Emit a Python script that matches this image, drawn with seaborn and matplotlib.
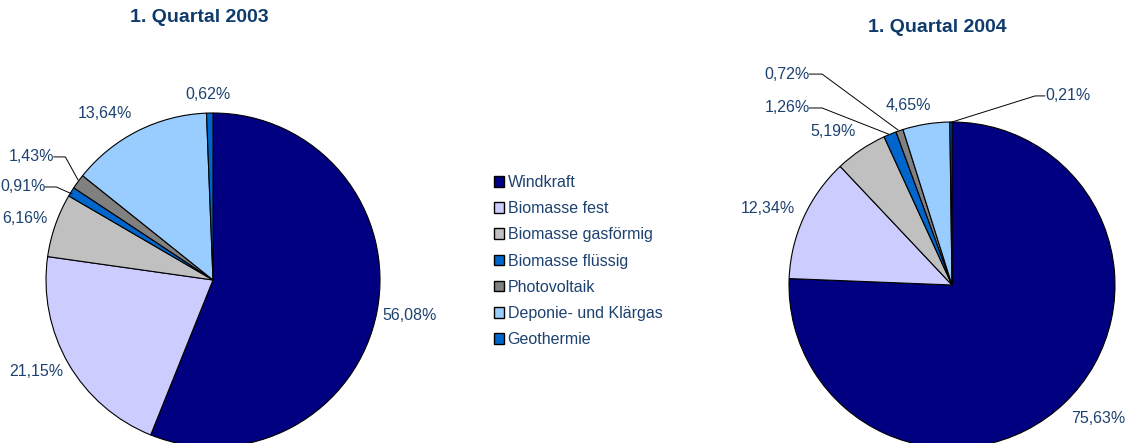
import matplotlib
matplotlib.use("Agg")
import matplotlib.pyplot as plt
from matplotlib.patches import Patch
import seaborn as sns

sns.set_theme(style="white")
plt.rcParams['font.family'] = ['Liberation Sans', 'DejaVu Sans']

categories = ["Windkraft", "Biomasse fest", "Biomasse gasförmig", "Biomasse flüssig",
              "Photovoltaik", "Deponie- und Klärgas", "Geothermie"]
values_2003 = [56.08, 21.15, 6.16, 0.91, 1.43, 13.64, 0.62]
values_2004 = [75.63, 12.34, 5.19, 1.26, 0.72, 4.65, 0.21]
titles = ["1. Quartal 2003", "1. Quartal 2004"]
colors = ["#000080", "#CCCCFF", "#C0C0C0", "#0066CC", "#808080", "#99CCFF", "#0066CC"]

TXT = "#1d4270"
TITLE = "#0e3a6c"

W, H = 1129, 443
fig = plt.figure(figsize=(W / 100, H / 100), dpi=100)


def pie_axes(cx, cy, r):
    ax = fig.add_axes([(cx - r) / W, (H - cy - r) / H, 2 * r / W, 2 * r / H])
    return ax


def fmt(v):
    return f"{v:.2f}".replace(".", ",") + "%"


# label positions (in pie units) and optional leader line (stub start, stub end, target)
pos_2003 = [(1.18, -0.21, None), (-1.057, -0.55, None), (-1.126, 0.371, None),
            (-1.138, 0.557, (0.13, 0.07, (-0.844, 0.515))),
            (-1.084, 0.737, (0.13, 0.07, (-0.808, 0.599))),
            (-0.647, 1.00, None), (-0.03, 1.108, None)]
pos_2004 = [(0.896, -0.816, None), (-1.129, 0.472, None), (-0.73, 0.94, None),
            (-1.012, 1.086, (0.135, 0.08, (-0.39, 0.926))),
            (-1.012, 1.294, (0.135, 0.08, (-0.33, 0.95))),
            (-0.27, 1.104, None),
            (0.71, 1.16, (-0.14, -0.06, (0.0, 1.0)))]

specs = [(213, 280, 167, values_2003, pos_2003, (199, 18)),
         (952, 285, 163, values_2004, pos_2004, (937, 27))]

for (cx, cy, r, vals, pos, tpos), title in zip(specs, titles):
    ax = pie_axes(cx, cy, r)
    ax.pie(vals, colors=colors, startangle=90, counterclock=False, radius=1,
           wedgeprops=dict(edgecolor='black', linewidth=0.8))
    ax.set_xlim(-1, 1)
    ax.set_ylim(-1, 1)
    ax.set_aspect('equal')
    ax.axis('off')
    for v, (x, y, lead) in zip(vals, pos):
        ax.text(x, y, fmt(v), ha='center', va='center', fontsize=11.5, color=TXT,
                clip_on=False)
        if lead is not None:
            off, stub, tgt = lead
            s0 = x + off
            s1 = s0 + stub
            ax.plot([s0, s1, tgt[0]], [y, y, tgt[1]], color='black',
                    linewidth=0.7, clip_on=False)
    fig.text(tpos[0] / W, 1 - tpos[1] / H, title, ha='center', va='center',
             fontsize=14, fontweight='bold', color=TITLE)

handles = [Patch(facecolor=c, edgecolor='black', linewidth=1.0) for c in colors]
leg = fig.legend(handles, categories, loc='upper left',
                 bbox_to_anchor=(494 / W, 1 - 175 / H), frameon=False,
                 fontsize=11.5, handlelength=0.65, handleheight=0.65,
                 handletextpad=0.2, labelspacing=0.7, borderpad=0, borderaxespad=0)
for t in leg.get_texts():
    t.set_color(TXT)

fig.savefig("out.png", dpi=100)
